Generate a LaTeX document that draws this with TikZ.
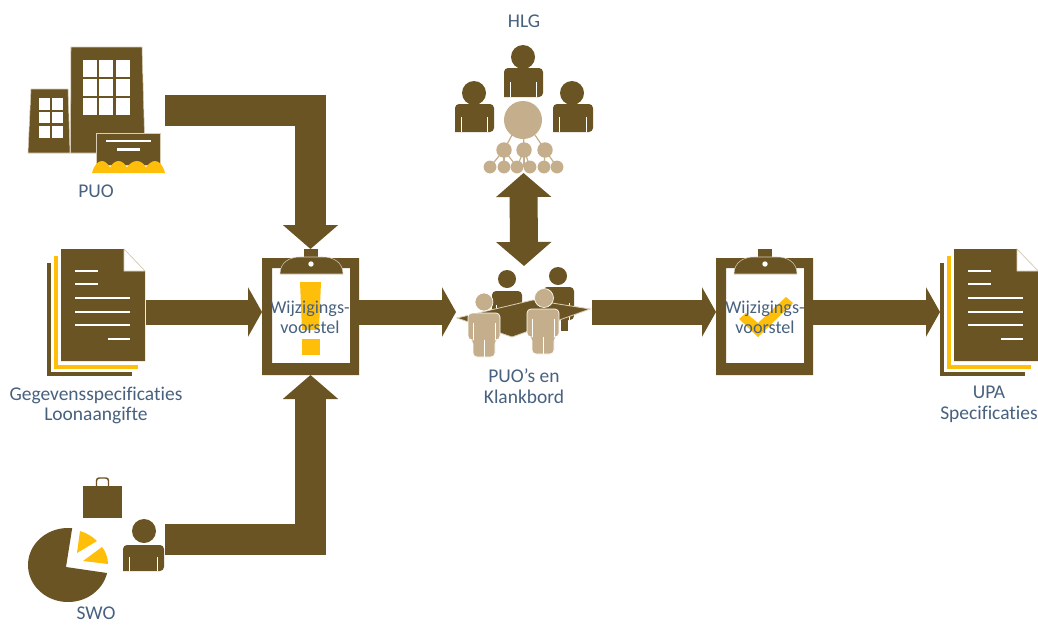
\documentclass[tikz,border=0pt]{standalone}
\usepackage{fontspec}
\setmainfont[Ligatures=NoCommon]{Carlito}
\usetikzlibrary{arrows.meta}
\definecolor{brn}{HTML}{6B5423}
\definecolor{tan}{HTML}{C4AE8B}
\definecolor{gold}{HTML}{FFBE0A}
\definecolor{lbl}{HTML}{47617F}
\definecolor{edge}{HTML}{D9CDB6}
\tikzset{
  lab/.style={text=lbl,align=center,inner sep=0pt,font=\fontsize{14.6}{15.6}\selectfont},
  cliplab/.style={lab,font=\fontsize{13.6}{14.6}\selectfont},
  slot/.style={inner sep=0pt,outer sep=0pt},
  flow/.style={draw=brn,line width=18.75pt,-{Triangle[length=10.5pt,width=36.75pt]}},
  elbow/.style={draw=brn,line width=23.25pt,miter limit=10,-{Triangle[length=18pt,width=40.5pt]}},
  both/.style={draw=brn,line width=21pt,{Triangle[length=18pt,width=40.5pt]}-{Triangle[length=18pt,width=40.5pt]}},
  dk/.style={fill=brn},
  tn/.style={fill=tan},
  gd/.style={fill=gold},
  wline/.style={draw=white,line width=2.1pt},
  slit/.style={draw=white,line width=.5pt},
  thread/.style={draw=tan,line width=.9pt},
}
% dark person: head x,y,r ; body x0,x1,y0,y1
\newcommand{\dkperson}[7]{%
  \fill[dk] (#1,#2) circle (#3);
  \fill[dk,rounded corners=3pt] (#4,#7) -- (#4,#6) -- (#5,#6) -- (#5,#7) [sharp corners] -- cycle;
  \draw[slit] ({#4+(#5-#4)*0.16},{#6+(#7-#6)*0.48}) -- ({#4+(#5-#4)*0.16},#7);
  \draw[slit] ({#4+(#5-#4)*0.84},{#6+(#7-#6)*0.48}) -- ({#4+(#5-#4)*0.84},#7);
}
% tan person with legs: head x,y,r ; x0, y0 (shoulder), y1 (arm end), y2 (feet)
\newcommand{\tnperson}[7]{%
  \fill[tn,draw=white,line width=.5pt] (#1,#2) circle (#3);
  \fill[tn,draw=white,line width=.5pt,rounded corners=3pt] (#4,#6) -- (#4,#5) -- ({#4+32},#5) -- ({#4+32},#6) -- ({#4+27},#6) -- ({#4+27},#7) -- ({#4+5},#7) -- ({#4+5},#6) -- cycle;
  \draw[slit] ({#4+5},{#5+10}) -- ({#4+5},#6);
  \draw[slit] ({#4+27},{#5+10}) -- ({#4+27},#6);
  \draw[slit] ({#4+16},#6) -- ({#4+16},#7);
}
\newcommand{\docicon}[1]{%
  \begin{scope}[xshift=#1*0.75pt]
    \fill[dk] (47,263) rectangle (51,376);
    \fill[dk] (47,372) rectangle (132,376);
    \fill[gd] (54,256) rectangle (57.5,368);
    \fill[gd] (54,365) rectangle (138,368.5);
    \fill[dk] (61,249) -- (124,249) -- (145,271) -- (145,361) -- (61,361) -- cycle;
    \fill[white,draw=edge,line width=.5pt] (124,249) -- (145,271) -- (124,271) -- cycle;
    \foreach \yy/\xa/\xb in {271/75/98,284/75/98,298/75/130,312/75/130,325/75/130,339/108/130}
      \draw[wline] (\xa,\yy) -- (\xb,\yy);
  \end{scope}}
\newcommand{\clipicon}[1]{%
  \begin{scope}[xshift=#1*0.75pt]
    \fill[dk,even odd rule] (262,258) rectangle (359,375) (272,268) rectangle (350,363);
    \fill[dk] (304,249) rectangle (318,258);
    \fill[dk,draw=edge,line width=.4pt] (280,274) .. controls (280,262) and (290,257) .. (300,257) -- (323,257) .. controls (333,257) and (343,262) .. (343,274) -- cycle;
    \fill[white] (311,264) circle (2.7);
  \end{scope}}
\begin{document}
\begin{tikzpicture}[x=.75pt,y=-.75pt]
\useasboundingbox[fill=white] (0,0) rectangle (1038,625);

% anchors for the icons
\node[slot,minimum width=137*.75pt,minimum height=126*.75pt] (puo) at (96.5,110) {};
\node[slot,minimum width=99*.75pt,minimum height=127*.75pt] (gegevens) at (96.5,312) {};
\node[slot,minimum width=137*.75pt,minimum height=123*.75pt] (swo) at (96.5,539.5) {};
\node[slot,minimum width=97*.75pt,minimum height=126*.75pt] (cbone) at (310.5,312) {};
\node[slot,minimum width=138*.75pt,minimum height=128*.75pt] (hlg) at (523.5,109) {};
\node[slot,minimum width=136*.75pt,minimum height=92*.75pt] (meet) at (524,312) {};
\node[slot,minimum width=97*.75pt,minimum height=126*.75pt] (cbtwo) at (764.5,312) {};
\node[slot,minimum width=98*.75pt,minimum height=127*.75pt] (upa) at (989,312) {};

% connectors
\draw[elbow] (puo.east) -| (cbone.north);
\draw[elbow] (swo.east) -| (cbone.south);
\draw[flow] (gegevens.east) -- (cbone.west);
\draw[flow] (cbone.east) -- (meet.west);
\draw[flow] (meet.east) -- (cbtwo.west);
\draw[flow] (cbtwo.east) -- (upa.west);
\draw[both] (hlg.south) -- (meet.north);

% PUO buildings
\fill[dk,draw=edge,line width=.4pt] (71,47) -- (142,47) -- (145,153) -- (70.5,153) -- cycle;
\fill[dk,draw=edge,line width=.4pt] (31,89) -- (68,89) -- (70,153) -- (28,153) -- cycle;
\foreach \xa/\xb in {83/97,99/113,116/130}
  \foreach \ya/\yb in {60/77,79/96,98/115}
    \fill[white] (\xa,\ya) rectangle (\xb,\yb);
\foreach \xa/\xb in {39/50,52/63}
  \foreach \ya/\yb in {98/110,112/123,126/138}
    \fill[white] (\xa,\ya) rectangle (\xb,\yb);
\fill[dk,draw=edge,line width=.5pt] (96,133) rectangle (160,165);
\draw[draw=white,line width=2.2pt] (106,141) -- (151,141);
\draw[draw=white,line width=2.2pt] (117,149.5) -- (140,149.5);
\fill[gd] (92,173) .. controls (94,165) and (98,161) .. (102,161) .. controls (105,161) and (108,164) .. (110,167.5)
  .. controls (112,164) and (115,161) .. (118.5,161) .. controls (122,161) and (125,164) .. (127,167.5)
  .. controls (129,164) and (133,161) .. (137,161) .. controls (141,161) and (144,164) .. (146,167.5)
  .. controls (148,164) and (152,161) .. (155,161) .. controls (159,161) and (163,165) .. (165,173) -- cycle;

% documents
\docicon{0}
\docicon{893}

% clipboards
\clipicon{0}
\fill[gd] (300,282) -- (321,282) -- (319,330) -- (302,330) -- cycle;
\fill[gd] (302,339) rectangle (320,355);
\clipicon{454}
\fill[gd] (739,319) -- (746,313) -- (758,323) -- (786,297) -- (793,303) -- (758,337) -- cycle;

% SWO
\fill[dk] (83,486) rectangle (122,518);
\draw[brn,line width=1.1pt,rounded corners=2pt] (96.5,486) -- (96.5,478) -- (108.5,478) -- (108.5,486);
\fill[dk] (66,567) -- plot[domain=-84:-347.5,samples=70] ({68+40*cos(\x)},{565+37*sin(\x)}) -- cycle;
\fill[gd] (80,531) .. controls (87,533) and (93,537) .. (97,541) -- (77,553) -- cycle;
\fill[gd] (83,561) -- (102,547) .. controls (106,552) and (108,558) .. (108,564) -- cycle;
\dkperson{144}{531}{12}{123}{164}{545}{571}

% HLG group
\foreach \xa/\ya/\xb/\yb in {512/135/504/150,523.5/135/524/150,535/135/545/150,
  504/150/490/167,504/150/517/167,524/150/517/167,524/150/530/167,545/150/544/167,545/150/557/167,504/150/504/167,524/150/524/167}
  \draw[thread] (\xa,\ya) -- (\xb,\yb);
\dkperson{523}{57}{12}{504}{543}{68}{97}
\dkperson{474}{93}{12}{455}{494}{104}{132}
\dkperson{572}{93}{12}{553}{593}{104}{132}
\fill[tn] (523,120) circle (19);
\foreach \xx in {504,524,545} \fill[tn] (\xx,150) circle (7.7);
\foreach \xx in {490,504,517,530,544,557} \fill[tn] (\xx,167) circle (6.4);

% meeting
\dkperson{507}{279}{9}{492}{522}{291}{320}
\dkperson{558}{276}{9}{543}{574}{287}{320}
\fill[dk] (561,315) rectangle (568,331);
\fill[dk,draw=edge,line width=.6pt] (457,318) -- (533,300) -- (590,309) -- (512,337) -- cycle;
\tnperson{484}{302}{9}{468}{313}{340}{357}
\tnperson{544}{298}{9.5}{527}{309}{337}{354}

% labels
\node[lab] (tpuo) at (96,191) {PUO};
\node[lab] (thlg) at (524,21) {HLG};
\node[lab] (tgeg) at (96,405.5) {Gegevensspecificaties\\Loonaangifte};
\node[lab] (tswo) at (96,613.5) {SWO};
\node[cliplab] (tone) at (310,317.5) {Wijzigings-\\voorstel};
\node[cliplab] (ttwo) at (765,317.5) {Wijzigings-\\voorstel};
\node[lab] (tmeet) at (524,386) {PUO’s en\\Klankbord};
\node[lab] (tupa) at (989,404.5) {UPA\\Specificaties};
\end{tikzpicture}
\end{document}
